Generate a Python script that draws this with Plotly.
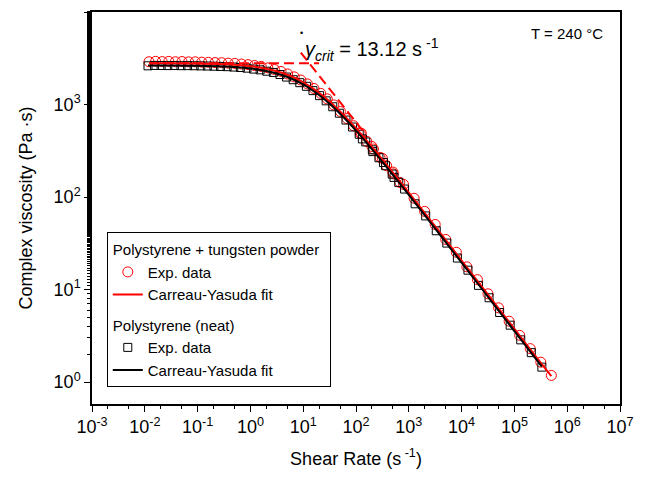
import plotly.graph_objects as go

# ---- data ----
# Polystyrene + tungsten powder : experimental data
pw_rate = [0.0120, 0.0160, 0.0214, 0.0285, 0.0380, 0.0507, 0.0676, 0.0902, 0.120, 0.160,
           0.214, 0.285, 0.380, 0.507, 0.676, 0.902, 1.20, 1.60, 2.14, 2.85,
           3.80, 5.07, 6.76, 9.02, 12.0, 16.0, 21.4, 28.5, 38.0, 50.7,
           67.6, 90.2, 120, 160, 214, 285, 380, 507, 676,
           126, 200, 316, 501, 794, 1259, 1995, 3162, 5012, 7943,
           12589, 19953, 31623, 50119, 79433, 125893, 199526, 316228, 501187]
pw_eta = [2900, 2930, 2910, 2925, 2900, 2915, 2890, 2895, 2870, 2860,
          2840, 2830, 2800, 2780, 2740, 2700, 2640, 2580, 2490, 2390,
          2280, 2140, 1990, 1840, 1670, 1490, 1320, 1150, 990, 840,
          705, 590, 488, 400, 330, 268, 218, 178, 144,
          490, 352, 262, 186, 137, 97, 70, 50.5, 34.8, 25.3,
          17.6, 12.8, 9.0, 6.35, 4.55, 3.20, 2.30, 1.64, 1.18]

# Polystyrene (neat) : experimental data
ps_rate = [0.0115, 0.0153, 0.0204, 0.0272, 0.0363, 0.0484, 0.0646, 0.0861, 0.115, 0.153,
           0.204, 0.272, 0.363, 0.484, 0.646, 0.861, 1.15, 1.53, 2.04, 2.72,
           3.63, 4.84, 6.46, 8.61, 11.5, 15.3, 20.4, 27.2, 36.3, 48.4,
           64.6, 86.1, 115, 153, 204, 272, 363, 484, 646,
           132, 209, 331, 525, 832, 1318, 2089, 3311, 5248, 8318,
           13183, 20893, 33113, 52481, 83176, 131826, 208930, 331131]
ps_eta = [2620, 2645, 2640, 2635, 2638, 2630, 2632, 2625, 2615, 2608,
          2596, 2580, 2565, 2540, 2512, 2472, 2415, 2371, 2291, 2222,
          2110, 1980, 1854, 1722, 1574, 1413, 1247, 1096, 946, 805,
          679, 571, 477, 394, 324, 266, 218, 177, 144,
          425, 310, 236, 163, 122, 84.5, 62.5, 43.2, 31.8, 21.9,
          16.2, 11.1, 8.15, 5.65, 4.12, 2.86, 2.08, 1.45]

# Carreau-Yasuda fits (sampled from the drawn curves)
fit_pw_rate = [0.012, 0.0316, 0.1, 0.316, 0.562, 1.0, 1.778, 3.162, 5.623, 10.0, 17.78,
               31.62, 56.23, 100, 177.8, 316.2, 1000, 3162, 10000, 31623, 100000,
               316228, 501187]
fit_pw_eta = [2797, 2789, 2771, 2722, 2672, 2593, 2468, 2289, 2045, 1740, 1405,
              1075, 784, 552, 378, 254, 111.7, 48.1, 20.6, 8.81, 3.76,
              1.61, 1.16]
fit_ps_rate = [0.0115, 0.0316, 0.1, 0.316, 0.562, 1.0, 1.778, 3.162, 5.623, 10.0, 17.78,
               31.62, 56.23, 100, 177.8, 316.2, 1000, 3162, 10000, 31623, 100000,
               331131]
fit_ps_eta = [2647, 2640, 2623, 2576, 2529, 2454, 2336, 2166, 1935, 1647, 1330,
              1017, 742, 522, 357.5, 240, 105.7, 45.5, 19.5, 8.34, 3.56,
              1.47]

# Critical shear rate construction (zero-shear plateau and power-law tangent)
plateau_rate = [0.012, 20]
plateau_eta = [2800, 2800]
powerlaw_rate = [9, 150]
powerlaw_eta = [3640, 480]

# Tick labels
x_exponents = [-3, -2, -1, 0, 1, 2, 3, 4, 5, 6, 7]
y_exponents = [0, 1, 2, 3, 4]

FONT = "Arial, Liberation Sans, sans-serif"
RED = "#ff0000"

fig = go.Figure()

fig.add_trace(go.Scatter(
    x=pw_rate, y=pw_eta, mode="markers", name="Exp. data",
    legendgroup="pw", legendgrouptitle=dict(text="Polystyrene + tungsten powder",
                                            font=dict(size=15, color="black")),
    marker=dict(symbol="circle-open", size=10, color=RED, line=dict(width=1, color=RED))))
fig.add_trace(go.Scatter(
    x=ps_rate, y=ps_eta, mode="markers", name="Exp. data",
    legendgroup="ps", legendgrouptitle=dict(text="Polystyrene (neat)",
                                            font=dict(size=15, color="black")),
    marker=dict(symbol="square-open", size=8, color="black", line=dict(width=1, color="black"))))
fig.add_trace(go.Scatter(
    x=fit_pw_rate, y=fit_pw_eta, mode="lines", name="Carreau-Yasuda fit",
    legendgroup="pw", line=dict(color=RED, width=2, shape="spline")))
fig.add_trace(go.Scatter(
    x=fit_ps_rate, y=fit_ps_eta, mode="lines", name="Carreau-Yasuda fit",
    legendgroup="ps", line=dict(color="black", width=2, shape="spline")))
fig.add_trace(go.Scatter(
    x=plateau_rate, y=plateau_eta, mode="lines", showlegend=False,
    line=dict(color=RED, width=2, dash="10px,5px")))
fig.add_trace(go.Scatter(
    x=powerlaw_rate, y=powerlaw_eta, mode="lines", showlegend=False,
    line=dict(color=RED, width=2, dash="10px,5px")))

axis_common = dict(
    type="log", showgrid=False, zeroline=False,
    showline=True, linecolor="black", linewidth=1.5, mirror=True,
    ticks="outside", ticklen=6, tickwidth=1, tickcolor="black",
    minor=dict(ticks="outside", ticklen=3, tickwidth=1, tickcolor="black", showgrid=False),
    tickfont=dict(family=FONT, size=18, color="black"),
)

fig.update_xaxes(**axis_common, range=[-3, 7],
                 tickvals=[10.0 ** e for e in x_exponents],
                 ticktext=[f"10<sup>{e}</sup>" for e in x_exponents],
                 title=dict(text="Shear Rate (s<sup> -1</sup>)", standoff=16,
                            font=dict(family=FONT, size=18, color="black")))
fig.update_yaxes(**axis_common, range=[-0.237, 4],
                 tickvals=[10.0 ** e for e in y_exponents],
                 ticktext=[f"10<sup>{e}</sup>" for e in y_exponents],
                 title=dict(text="Complex viscosity (Pa ·s)", standoff=16,
                            font=dict(family=FONT, size=18, color="black")))

fig.update_layout(
    width=656, height=477,
    margin=dict(l=92, r=36, t=10, b=73),
    paper_bgcolor="white", plot_bgcolor="white",
    font=dict(family=FONT, size=15, color="black"),
    legend=dict(x=0.028, y=0.043, xanchor="left", yanchor="bottom",
                bgcolor="white", bordercolor="black", borderwidth=1,
                traceorder="grouped", tracegroupgap=8,
                font=dict(family=FONT, size=15, color="black"),
                itemwidth=30),
    annotations=[
        dict(text="T = 240 °C", xref="paper", yref="paper", x=0.9, y=0.944,
             xanchor="center", yanchor="middle",
             showarrow=False, font=dict(family=FONT, size=15, color="black")),
        dict(text="<i>γ</i><sub><i>crit</i></sub> = 13.12 s<sup> -1</sup>",
             xref="paper", yref="paper", x=0.4, y=0.905,
             xanchor="left", yanchor="middle",
             showarrow=False, font=dict(family=FONT, size=20, color="black")),
        dict(text="•", xref="paper", yref="paper", x=0.397, y=0.947,
             xanchor="center", yanchor="middle",
             showarrow=False, font=dict(family=FONT, size=9, color="black")),
    ],
)

fig.write_html("out.html")
